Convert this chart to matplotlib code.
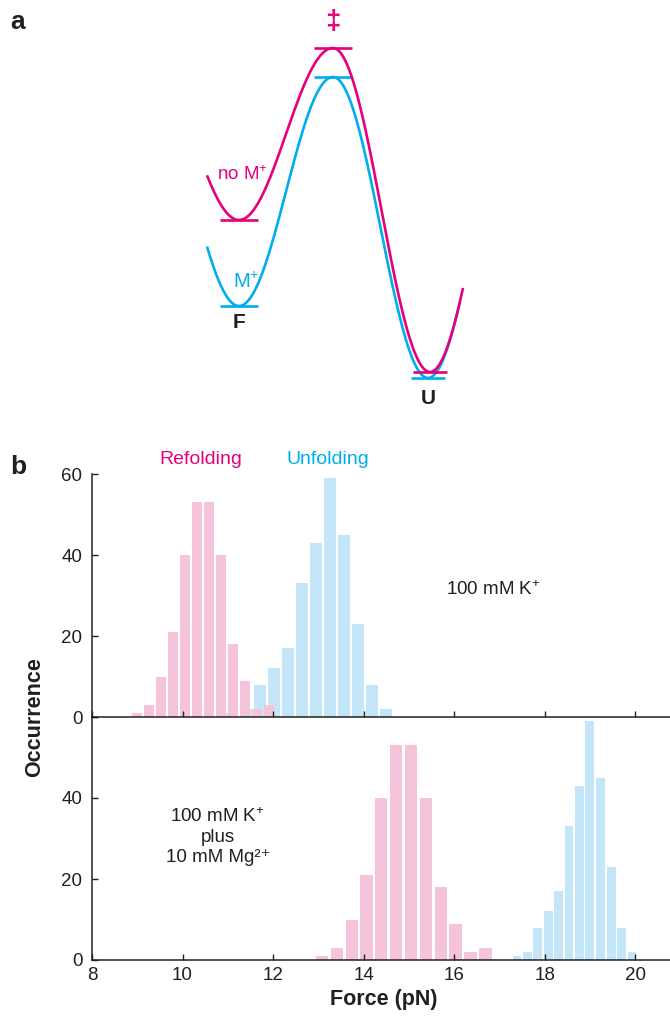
import numpy as np
import matplotlib
matplotlib.use("Agg")
import matplotlib.pyplot as plt

plt.rcParams['font.family'] = ['Liberation Sans', 'DejaVu Sans']
plt.rcParams['mathtext.fontset'] = 'custom'
plt.rcParams['mathtext.rm'] = 'Liberation Sans'
plt.rcParams['mathtext.it'] = 'Liberation Sans:italic'
plt.rcParams['mathtext.bf'] = 'Liberation Sans:bold'

# ---- data -------------------------------------------------------------
# panel a: schematic free-energy landscape (reaction coordinate, free energy)
q_noM = [-3.2, 0.0, 9.4, 19.1, 22.4]      # start, F, TS, U, end
g_noM = [15.2, 32.4, 0.0]                 # F, TS, U
q_M = [-3.2, 0.0, 9.4, 18.9, 22.1]
g_M = [6.6, 29.5, -0.6]

# panel b: force histograms (pN, counts)
refold_100K = [8.99, 9.26, 9.52, 9.79, 10.05, 10.32, 10.58, 10.85, 11.11, 11.38, 11.64, 11.91]
unfold_100K = [11.09, 11.40, 11.71, 12.02, 12.33, 12.64, 12.95, 13.26, 13.57, 13.88, 14.19, 14.50]
refold_Mg = [13.08, 13.41, 13.74, 14.06, 14.39, 14.72, 15.05, 15.38, 15.71, 16.03, 16.36, 16.69]
unfold_Mg = [17.39, 17.62, 17.85, 18.08, 18.31, 18.54, 18.77, 19.00, 19.24, 19.47, 19.70, 19.93]
refold_counts = [1, 3, 10, 21, 40, 53, 53, 40, 18, 9, 2, 3]
unfold_counts = [1, 2, 8, 12, 17, 33, 43, 59, 45, 23, 8, 2]

xticks = [8, 10, 12, 14, 16, 18, 20]

# ---- colours ----------------------------------------------------------
MAG = '#E6007E'
CYAN = '#00AEEF'
PINK_BAR = '#F5C3DA'
BLUE_BAR = '#C3E6F8'
INK = '#231F20'


def landscape(q, g, n=400):
    """piecewise cosine between the extrema, mirrored at the two ends"""
    q0, qF, qT, qU, q1 = q
    gF, gT, gU = g

    def seg(x, xa, ya, xb, yb):
        t = (x - xa) / (xb - xa)
        return ya + (yb - ya) * (1 - np.cos(np.pi * t)) / 2

    x = np.linspace(q0, q1, n)
    y = np.empty_like(x)
    for i, xi in enumerate(x):
        if xi < qF:
            y[i] = seg(2 * qF - xi, qF, gF, qT, gT)
        elif xi < qT:
            y[i] = seg(xi, qF, gF, qT, gT)
        elif xi < qU:
            y[i] = seg(xi, qT, gT, qU, gU)
        else:
            y[i] = seg(2 * qU - xi, qT, gT, qU, gU)
    return x, y


fig = plt.figure(figsize=(6.7, 10.22), dpi=100, facecolor='white')

# ---- panel a ----------------------------------------------------------
axa = fig.add_axes([0, 1 - 420 / 1022, 1, 420 / 1022])
axa.set_xlim(-23.9, 43.1)
axa.set_ylim(-4.8, 37.2)
axa.axis('off')

for q, g, col in [(q_M, g_M, CYAN), (q_noM, g_noM, MAG)]:
    x, y = landscape(q, g)
    axa.plot(x, y, color=col, lw=1.9, solid_capstyle='butt')
    for qi, gi, hw in [(q[1], g[0], 1.85), (q[2], g[1], 1.9), (q[3], g[2], 1.7)]:
        axa.plot([qi - hw, qi + hw], [gi, gi], color=col, lw=1.9, solid_capstyle='butt')

axa.text(q_noM[2], 35.0, '‡', color=MAG, fontsize=20, fontweight='bold', ha='center', va='center')
axa.text(0.3, 19.7, 'no M$^{+}$', color=MAG, fontsize=13.5, ha='center', va='center')
axa.text(0.7, 9.0, 'M$^{+}$', color=CYAN, fontsize=14.5, ha='center', va='center')
axa.text(q_M[1], 5.0, 'F', color=INK, fontsize=15, fontweight='bold', ha='center', va='center')
axa.text(q_M[3], -2.6, 'U', color=INK, fontsize=15, fontweight='bold', ha='center', va='center')

fig.text(18 / 670, 1 - 22 / 1022, 'a', fontsize=19, fontweight='bold', color=INK, ha='center', va='center')
fig.text(18 / 670, 1 - 467 / 1022, 'b', fontsize=19, fontweight='bold', color=INK, ha='center', va='center')

# ---- panel b ----------------------------------------------------------
left = 92 / 670
width = 1 - left
h = 243 / 1022
ax1 = fig.add_axes([left, 1 - 717 / 1022, width, h])
ax2 = fig.add_axes([left, 1 - 960 / 1022, width, h])


def bars(ax, centers, counts, color):
    w = np.mean(np.diff(centers)) * 0.84
    ax.bar(centers, counts, width=w, color=color, linewidth=0)


bars(ax1, unfold_100K, unfold_counts, BLUE_BAR)
bars(ax1, refold_100K, refold_counts, PINK_BAR)
bars(ax2, refold_Mg, refold_counts, PINK_BAR)
bars(ax2, unfold_Mg, unfold_counts, BLUE_BAR)

for ax in (ax1, ax2):
    ax.set_xlim(8, 20.77)
    ax.set_ylim(0, 60)
    ax.set_xticks(xticks)
    ax.set_yticks([0, 20, 40, 60])
    for s in ('top', 'right'):
        ax.spines[s].set_visible(False)
    for s in ('left', 'bottom'):
        ax.spines[s].set_linewidth(1.1)
        ax.spines[s].set_color(INK)
    ax.tick_params(direction='in', length=4, width=1.0, color=INK,
                   labelsize=13.5, labelcolor=INK)
    ax.tick_params(axis='y', pad=7)
    ax.tick_params(axis='x', pad=5)
    ax.patch.set_alpha(0)

ax1.tick_params(axis='x', labelbottom=False)
ax2.set_yticklabels(['0', '20', '40', ''])

ax1.text(10.41, 63.5, 'Refolding', color=MAG, fontsize=14, ha='center', va='center', clip_on=False)
ax1.text(13.22, 63.5, 'Unfolding', color=CYAN, fontsize=14, ha='center', va='center', clip_on=False)
ax1.text(16.86, 31.4, '100 mM K$^{+}$', color=INK, fontsize=13.5, ha='center', va='center')
ax2.text(10.78, 30.4, '100 mM K$^{+}$\nplus\n10 mM Mg²⁺', color=INK, fontsize=13.5,
         ha='center', va='center', linespacing=1.25)

fig.text(35 / 670, 1 - 717 / 1022, 'Occurrence', rotation=90, fontsize=15.5, fontweight='bold',
         color=INK, ha='center', va='center')
fig.text(384 / 670, 1 - 1000 / 1022, 'Force (pN)', fontsize=15.5, fontweight='bold',
         color=INK, ha='center', va='center')

fig.savefig('out.png', dpi=100, facecolor='white')
